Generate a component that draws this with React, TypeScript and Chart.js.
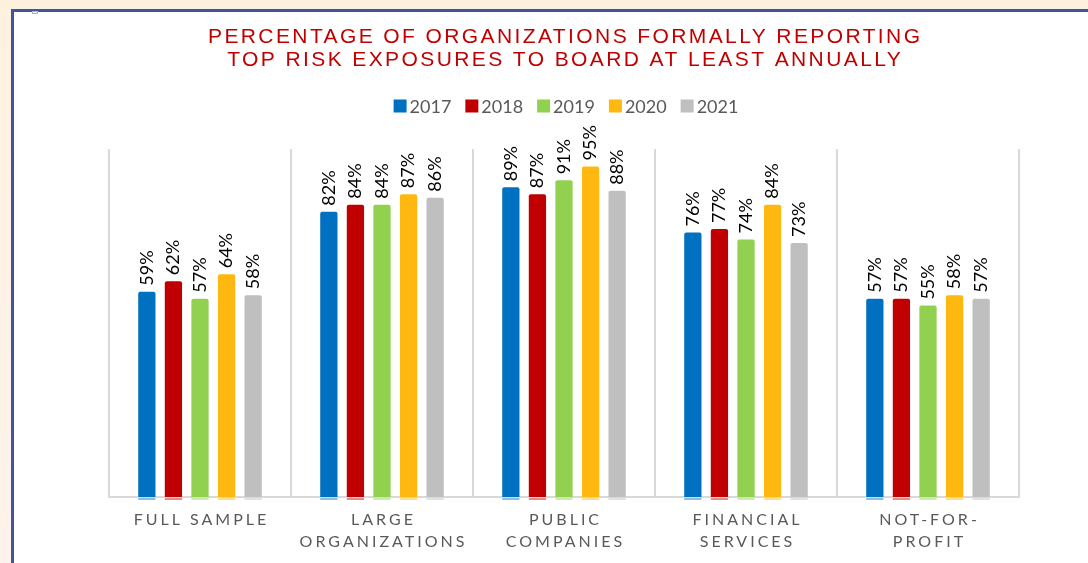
import React, { useEffect, useRef } from "react";
import { Chart, registerables } from "chart.js";

Chart.register(...registerables);

const titleLines = [
  "PERCENTAGE OF ORGANIZATIONS FORMALLY REPORTING",
  "TOP RISK EXPOSURES TO BOARD AT LEAST ANNUALLY",
];
const categories = [
  ["FULL SAMPLE"],
  ["LARGE", "ORGANIZATIONS"],
  ["PUBLIC", "COMPANIES"],
  ["FINANCIAL", "SERVICES"],
  ["NOT-FOR-", "PROFIT"],
];
const seriesNames = ["2017", "2018", "2019", "2020", "2021"];
const seriesColors = ["#0070C0", "#C00000", "#92D050", "#FFB810", "#BFBFBF"];
const values2017 = [59, 82, 89, 76, 57];
const values2018 = [62, 84, 87, 77, 57];
const values2019 = [57, 84, 91, 74, 55];
const values2020 = [64, 87, 95, 84, 58];
const values2021 = [58, 86, 88, 73, 57];
const allValues = [values2017, values2018, values2019, values2020, values2021];

const LABEL_FONT = "Lato, 'Open Sans', sans-serif";

function drawSpaced(ctx: CanvasRenderingContext2D, text: string, cx: number, y: number, spacing: number) {
  (ctx as any).letterSpacing = spacing + "px";
  const w = ctx.measureText(text).width - spacing;
  ctx.textAlign = "left";
  ctx.fillText(text, cx - w / 2, y);
  (ctx as any).letterSpacing = "0px";
}

const decorPlugin = {
  id: "decor",
  beforeDraw(chart: any) {
    const ctx = chart.ctx as CanvasRenderingContext2D;
    const W = chart.width;
    const H = chart.height;
    ctx.save();
    const g = ctx.createLinearGradient(0, 0, 0, H);
    g.addColorStop(0, "#FDF1DE");
    g.addColorStop(1, "#FEF3EC");
    ctx.fillStyle = g;
    ctx.fillRect(0, 0, W, H);
    ctx.fillStyle = "#FFFFFF";
    ctx.fillRect(11, 9, W, H);
    ctx.strokeStyle = "#4352A6";
    ctx.lineWidth = 3;
    ctx.beginPath();
    ctx.moveTo(12.5, H + 5);
    ctx.lineTo(12.5, 10.5);
    ctx.lineTo(W + 5, 10.5);
    ctx.stroke();
    ctx.strokeStyle = "#B0B0B0";
    ctx.lineWidth = 1;
    ctx.strokeRect(32.5, 11.5, 5, 2);
    // title
    ctx.fillStyle = "#C00000";
    ctx.font = "21px 'Liberation Sans', Arial, sans-serif";
    ctx.textBaseline = "middle";
    drawSpaced(ctx, titleLines[0], 564, 37, 2.4);
    drawSpaced(ctx, titleLines[1], 564, 60, 2.4);
    // legend
    ctx.font = "18px " + LABEL_FONT;
    const box = 13, gapBox = 3, gapItem = 14;
    const widths = seriesNames.map((n) => ctx.measureText(n).width);
    const total = widths.reduce((a, b) => a + b, 0) + seriesNames.length * (box + gapBox) + gapItem * (seriesNames.length - 1);
    let x = 566 - total / 2;
    const ly = 106;
    seriesNames.forEach((n, i) => {
      ctx.fillStyle = seriesColors[i];
      ctx.fillRect(x, ly - box / 2, box, box);
      x += box + gapBox;
      ctx.fillStyle = "#595959";
      ctx.textAlign = "left";
      ctx.fillText(n, x, ly + 1);
      x += widths[i] + gapItem;
    });
    ctx.restore();
  },
  afterDraw(chart: any) {
    const ctx = chart.ctx as CanvasRenderingContext2D;
    const xScale = chart.scales.x;
    ctx.save();
    // value labels
    ctx.font = "18px " + LABEL_FONT;
    ctx.fillStyle = "#000000";
    ctx.textBaseline = "middle";
    ctx.textAlign = "left";
    chart.data.datasets.forEach((ds: any, di: number) => {
      const meta = chart.getDatasetMeta(di);
      meta.data.forEach((el: any, i: number) => {
        ctx.save();
        ctx.translate(el.x, el.y - 6);
        ctx.rotate(-Math.PI / 2);
        ctx.fillText(ds.data[i] + "%", 0, 0);
        ctx.restore();
        // faint reflection under the axis
        ctx.fillStyle = ds.backgroundColor;
        ctx.globalAlpha = 0.45;
        ctx.fillRect(el.x - el.width / 2, chart.chartArea.bottom + 1, el.width, 2);
        ctx.globalAlpha = 1;
        ctx.fillStyle = "#000000";
      });
    });
    // category labels
    ctx.font = "16px " + LABEL_FONT;
    ctx.fillStyle = "#595959";
    categories.forEach((lines, i) => {
      const cx = xScale.getPixelForValue(i);
      lines.forEach((ln, j) => {
        drawSpaced(ctx, ln, cx, 520 + j * 22, 3);
      });
    });
    ctx.restore();
  },
};

export default function App() {
  const ref = useRef<HTMLCanvasElement | null>(null);
  useEffect(() => {
    if (!ref.current) return;
    const chart = new Chart(ref.current, {
      type: "bar",
      data: {
        labels: categories.map((c) => c.join(" ")),
        datasets: seriesNames.map((n, i) => ({
          label: n,
          data: allValues[i],
          backgroundColor: seriesColors[i],
          borderRadius: { topLeft: 2, topRight: 2, bottomLeft: 0, bottomRight: 0 },
          borderSkipped: "bottom",
          categoryPercentage: 0.73,
          barPercentage: 0.65,
        })),
      },
      options: {
        animation: false,
        responsive: false,
        maintainAspectRatio: false,
        layout: { padding: { left: 109, right: 69, top: 149, bottom: 66 } },
        plugins: {
          legend: { display: false },
          title: { display: false },
          tooltip: { enabled: false },
        },
        scales: {
          x: {
            ticks: { display: false },
            grid: { color: "#D9D9D9", lineWidth: 2, drawTicks: false, offset: true },
            border: { display: true, color: "#D9D9D9", width: 2 },
          },
          y: { display: false, min: 0, max: 100 },
        },
      },
      plugins: [decorPlugin],
    });
    return () => chart.destroy();
  }, []);
  return (
    <div style={{ position: "fixed", left: 0, top: 0, width: 1088, height: 563 }}>
      <canvas ref={ref} width={1088} height={563} style={{ display: "block", width: 1088, height: 563 }} />
    </div>
  );
}
